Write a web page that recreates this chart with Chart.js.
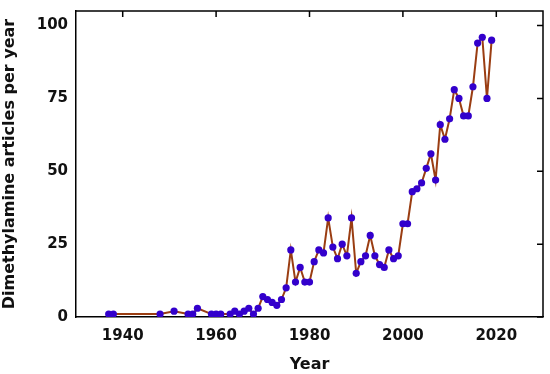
<!DOCTYPE html>
<html>
<head>
<meta charset="utf-8">
<script src="https://cdn.jsdelivr.net/npm/chart.js@4"></script>
<style>
  body { margin: 0; background: #fff; }
  #wrap { width: 550px; height: 374px; }
</style>
</head>
<body>
<div id="wrap"><canvas id="out"></canvas></div>
<script>
// articles per year
const years = [1937, 1938, 1948, 1951, 1954, 1955, 1956, 1959, 1960, 1961,
  1963, 1964, 1965, 1966, 1967, 1968, 1969, 1970, 1971, 1972, 1973, 1974,
  1975, 1976, 1977, 1978, 1979, 1980, 1981, 1982, 1983, 1984, 1985, 1986,
  1987, 1988, 1989, 1990, 1991, 1992, 1993, 1994, 1995, 1996, 1997, 1998,
  1999, 2000, 2001, 2002, 2003, 2004, 2005, 2006, 2007, 2008, 2009, 2010,
  2011, 2012, 2013, 2014, 2015, 2016, 2017, 2018, 2019];
const counts = [1, 1, 1, 2, 1, 1, 3, 1, 1, 1,
  1, 2, 1, 2, 3, 1, 3, 7, 6, 5, 4, 6,
  10, 23, 12, 17, 12, 12, 19, 23, 22, 34, 24, 20,
  25, 21, 34, 15, 19, 21, 28, 21, 18, 17, 23, 20,
  21, 32, 32, 43, 44, 46, 51, 56, 47, 66, 61, 68,
  78, 75, 69, 69, 79, 94, 96, 75, 95];
const xTicks = [1940, 1960, 1980, 2000, 2020];
const yTicks = [0, 25, 50, 75, 100];

const fontFam = "'DejaVu Sans', Verdana, sans-serif";

// top and right frame with small inward ticks
const framePlugin = {
  id: "frame",
  afterDraw(chart) {
    const ctx = chart.ctx;
    const a = chart.chartArea;
    const xs = chart.scales.x, ys = chart.scales.y;
    ctx.save();
    ctx.strokeStyle = "#000";
    ctx.lineWidth = 1.5;
    ctx.beginPath();
    ctx.moveTo(a.left, a.top);
    ctx.lineTo(a.right, a.top);
    ctx.lineTo(a.right, a.bottom);
    for (const t of xTicks) {
      const px = xs.getPixelForValue(t);
      ctx.moveTo(px, a.top);
      ctx.lineTo(px, a.top + 6);
    }
    for (const t of yTicks) {
      const py = ys.getPixelForValue(t);
      ctx.moveTo(a.right, py);
      ctx.lineTo(a.right - 6, py);
    }
    ctx.stroke();
    ctx.restore();
  }
};

const canvasCtx = document.getElementById("out").getContext("2d");
new Chart(canvasCtx, {
  type: "line",
  data: {
    datasets: [{
      data: years.map((y, i) => ({ x: y, y: counts[i] })),
      borderColor: "#9a3d12",
      borderWidth: 2,
      pointBackgroundColor: "#3300cc",
      pointBorderColor: "#3300cc",
      pointRadius: 3.6,
      pointBorderWidth: 0,
      tension: 0
    }]
  },
  options: {
    responsive: true,
    maintainAspectRatio: false,
    animation: false,
    layout: { padding: { top: 6, right: 7, left: 0, bottom: 0 } },
    plugins: { legend: { display: false }, tooltip: { enabled: false } },
    scales: {
      x: {
        type: "linear",
        min: 1930,
        max: 2030,
        afterBuildTicks: s => { s.ticks = xTicks.map(v => ({ value: v })); },
        afterFit: s => { s.height = 57; },
        grid: { display: false, drawOnChartArea: false, drawTicks: true, tickLength: 6, tickColor: "#000", tickWidth: 1.5 },
        border: { color: "#000", width: 1.5 },
        ticks: { color: "#111", padding: 4, callback: v => String(v),
                 font: { family: fontFam, size: 15, weight: "bold" } },
        title: { display: true, text: "Year", color: "#111", padding: { top: 2, bottom: 0 },
                 font: { family: fontFam, size: 16, weight: "bold" } }
      },
      y: {
        min: 0,
        max: 105,
        afterBuildTicks: s => { s.ticks = yTicks.map(v => ({ value: v })); },
        afterFit: s => { s.width = 76; },
        grid: { display: false, drawOnChartArea: false, drawTicks: true, tickLength: 6, tickColor: "#000", tickWidth: 1.5 },
        border: { color: "#000", width: 1.5 },
        ticks: { color: "#111", padding: 2, callback: v => String(v),
                 font: { family: fontFam, size: 15, weight: "bold" } },
        title: { display: true, text: "Dimethylamine articles per year", color: "#111", padding: { top: 0, bottom: 2 },
                 font: { family: fontFam, size: 16, weight: "bold" } }
      }
    }
  },
  plugins: [framePlugin]
});
</script>
</body>
</html>
